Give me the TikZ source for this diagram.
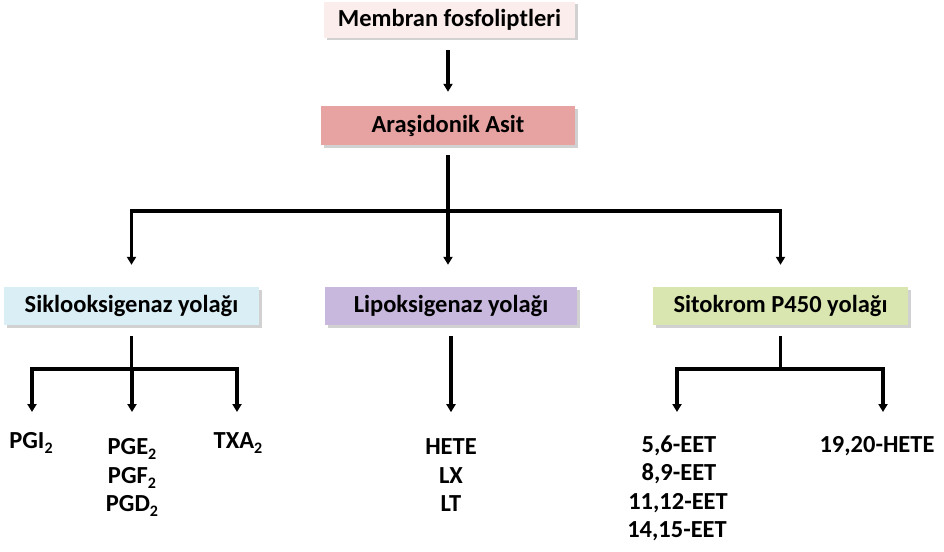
\documentclass[tikz,border=0pt]{standalone}
\usepackage{fontspec}
\setmainfont{Carlito}
\usetikzlibrary{arrows.meta,shadows}
\definecolor{cMem}{HTML}{FBEDEB}
\definecolor{cAra}{HTML}{E6A3A1}
\definecolor{cSik}{HTML}{DAEEF6}
\definecolor{cLip}{HTML}{C8B8DE}
\definecolor{cSit}{HTML}{D9E6B0}
\newcommand\sbt[1]{\raisebox{-5.5pt}{\fontsize{16}{16}\selectfont #1}}
\begin{document}
\begin{tikzpicture}[x=1pt,y=-1pt,
  box/.style={inner sep=0pt, font=\bfseries\fontsize{24.5}{28}\selectfont,
    drop shadow={shadow xshift=2.5pt,shadow yshift=-2.5pt,opacity=0.3,fill=black!60}},
  lbl/.style={inner sep=0pt, anchor=base, font=\bfseries\fontsize{24.5}{28}\selectfont},
  con/.style={line width=3.5pt},
  arr/.style={con,-{Triangle[width=9pt,length=8pt]}}]
\useasboundingbox (0,0) rectangle (944,551);
% boxes
\node[box, fill=cMem, minimum width=251pt, minimum height=36pt] (mem) at (449.5,20) {Membran fosfoliptleri};
\node[box, fill=cAra, minimum width=254pt, minimum height=39pt] (ara) at (448,125.5) {Araşidonik Asit};
\node[box, fill=cSik, minimum width=255pt, minimum height=38pt] (sik) at (131.5,306) {Siklooksigenaz yolağı};
\node[box, fill=cLip, minimum width=252pt, minimum height=38pt] (lip) at (451,306) {Lipoksigenaz yolağı};
\node[box, fill=cSit, minimum width=255pt, minimum height=38pt] (sit) at (780.5,306) {Sitokrom P450 yolağı};
% top arrow
\draw[arr] ([yshift=-12pt]mem.south -| ara.north) -- ([yshift=14pt]ara.north);
% main branching
\coordinate (J) at ([yshift=-66pt]ara.south);
\draw[con] ([yshift=-10pt]ara.south) -- (J);
\draw[arr] (J) -| ([yshift=22pt]sik.north);
\draw[arr] (J) -| ([yshift=22pt]sit.north);
\draw[arr] (J) -- ([yshift=22pt]J |- lip.north);
% siklooksigenaz branch
\coordinate (J2) at ([yshift=-44pt]sik.south);
\coordinate (tPGI) at (32,412);
\coordinate (tPGE) at (132,412);
\coordinate (tTXA) at (237,412);
\draw[con] ([yshift=-11pt]sik.south) -- (J2);
\draw[arr] (J2) -| (tPGI);
\draw[arr] (J2) -| (tTXA);
\draw[arr] (J2) -| (tPGE);
% lipoksigenaz branch
\draw[arr] ([yshift=-11pt]lip.south) -- ([yshift=-87pt]lip.south);
% sitokrom branch
\coordinate (J3) at ([yshift=-44pt]sit.south);
\coordinate (tEET) at (677,412);
\coordinate (tHETE) at (883,412);
\draw[con] ([yshift=-11pt]sit.south) -- (J3);
\draw[arr] (J3) -| (tEET);
\draw[arr] (J3) -| (tHETE);
% labels
\node[lbl] (pgi) at (31,448) {PGI\sbt{2}};
\node[lbl] (pge) at (132,454) {PGE\sbt{2}};
\node[lbl] (pgf) at (132,483) {PGF\sbt{2}};
\node[lbl] (pgd) at (132,511) {PGD\sbt{2}};
\node[lbl] (txa) at (238,448) {TXA\sbt{2}};
\node[lbl] (hete) at (451,454) {HETE};
\node[lbl] (lx) at (451,483) {LX};
\node[lbl] (lt) at (451,511) {LT};
\node[lbl] (e56) at (679,452) {5,6-EET};
\node[lbl] (e89) at (679,480) {8,9-EET};
\node[lbl] (e1112) at (678,509) {11,12-EET};
\node[lbl] (e1415) at (677,537) {14,15-EET};
\node[lbl] (h1920) at (877,452) {19,20-HETE};
\end{tikzpicture}
\end{document}
